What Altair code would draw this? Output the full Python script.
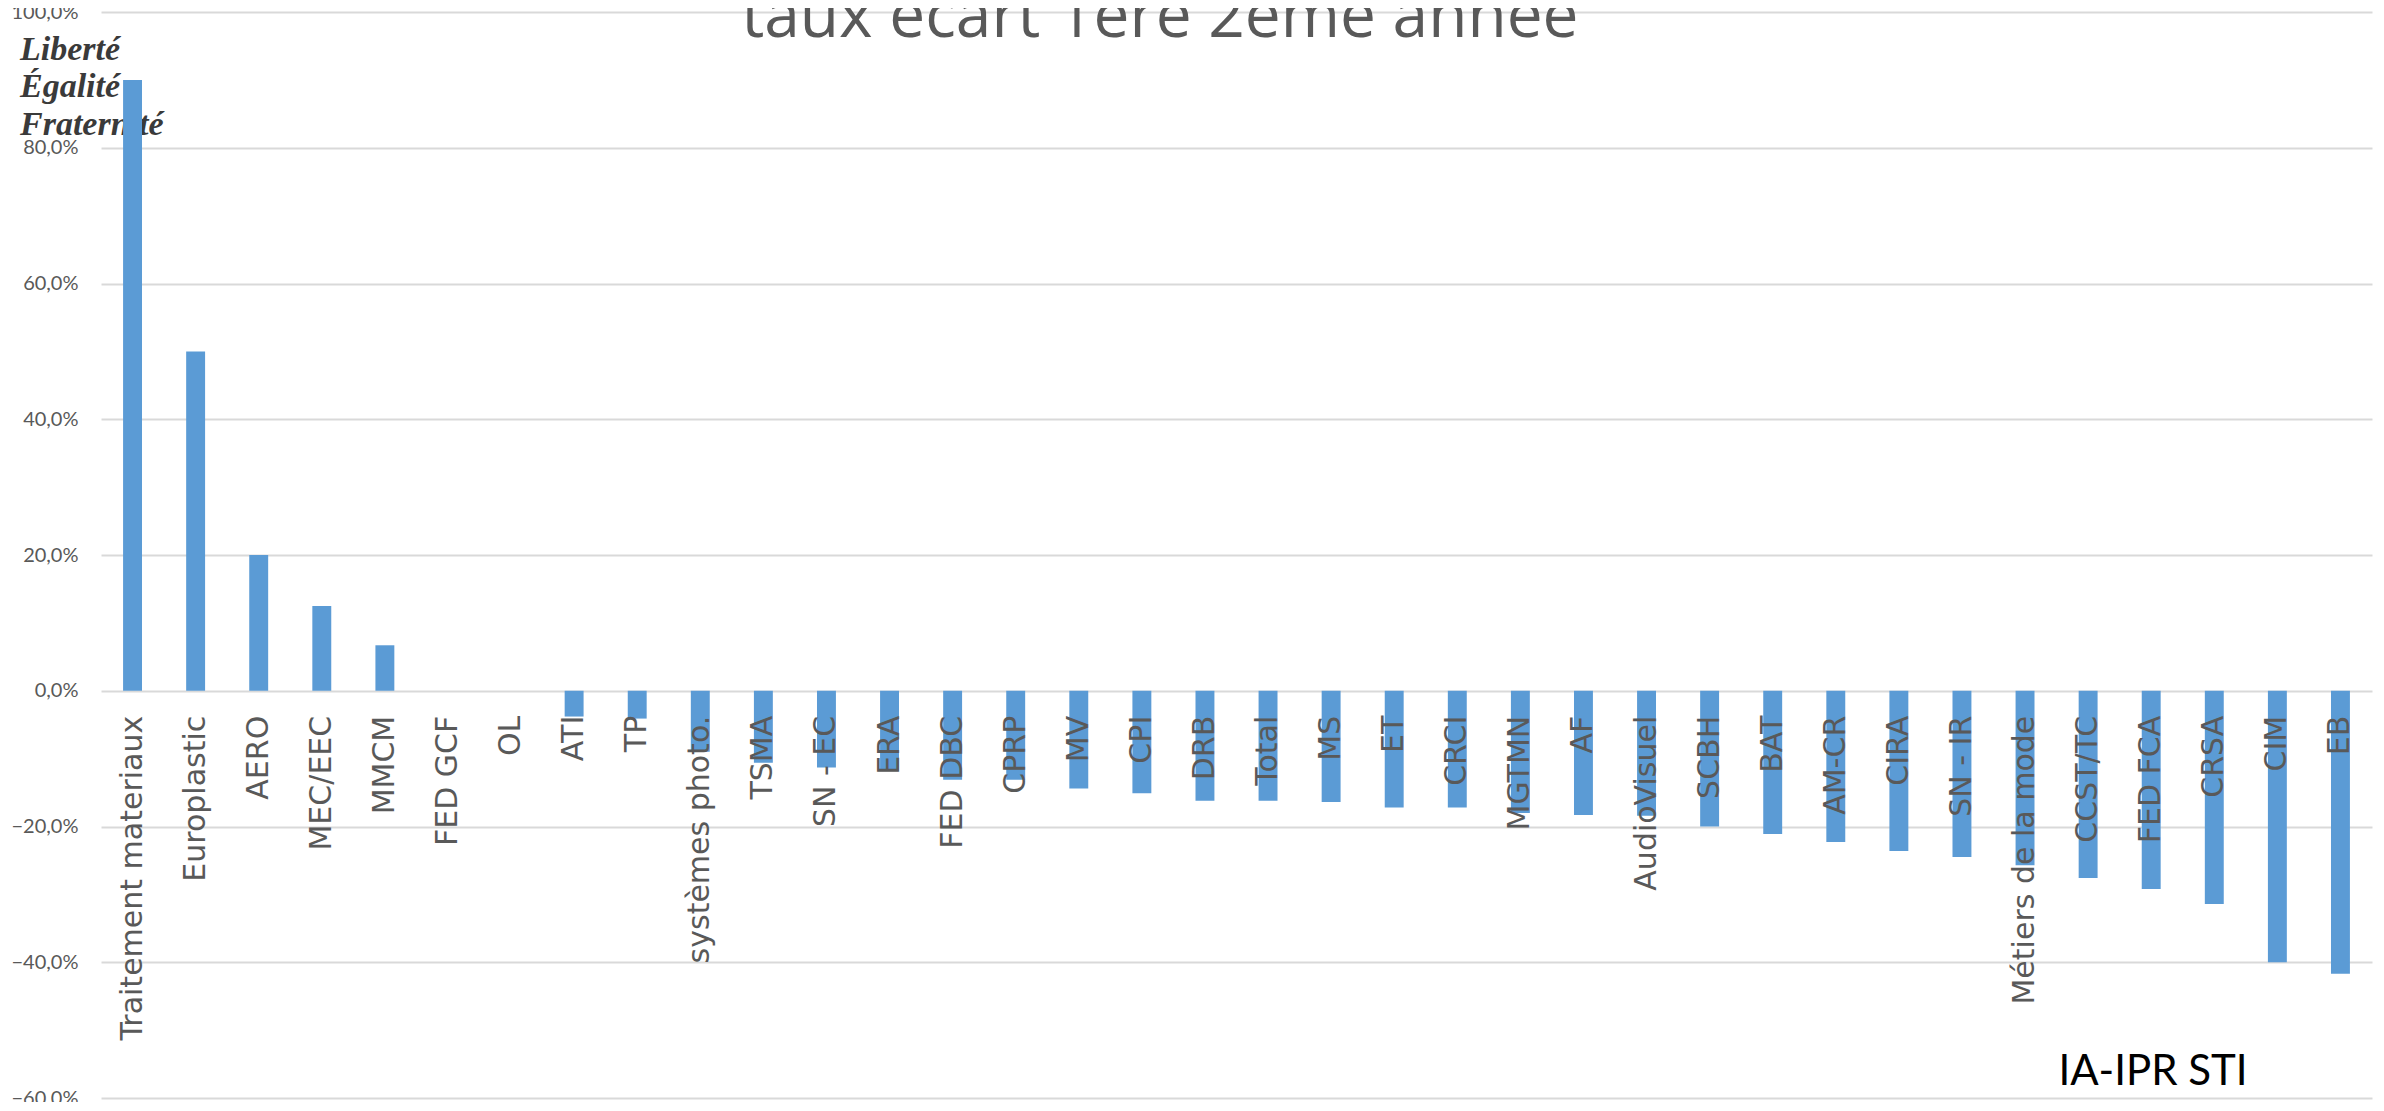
import altair as alt
import pandas as pd

CATEGORIES = [
    "Traitement materiaux", "Europlastic", "AERO", "MEC/EEC", "MMCM", "FED GCF", "OL",
    "ATI", "TP", "systèmes photo.", "TSMA", "SN - EC", "ERA", "FED DBC", "CPRP", "MV",
    "CPI", "DRB", "Total", "MS", "ET", "CRCI", "MGTMN", "AF", "AudioVisuel", "SCBH",
    "BAT", "AM-CR", "CIRA", "SN - IR", "Métiers de la mode", "CCST/TC", "FED FCA",
    "CRSA", "CIM", "EB",
]
VALUES_PCT = [
    90.0, 50.0, 20.0, 12.5, 6.7, 0.0, 0.0,
    -3.8, -4.1, -9.0, -10.6, -11.3, -11.8, -13.1, -13.1, -14.4,
    -15.1, -16.2, -16.2, -16.4, -17.2, -17.2, -18.0, -18.3, -18.4, -20.0,
    -21.1, -22.3, -23.6, -24.5, -25.7, -27.6, -29.2,
    -31.4, -40.0, -41.7,
]
Y_TICKS_PCT = [-60, -40, -20, 0, 20, 40, 60, 80, 100]
TITLE = "taux ecart 1ère 2ème année"
SOURCE = "IA-IPR STI"
LOGO_LINES = ["Liberté", "Égalité", "Fraternité"]

df = pd.DataFrame({
    "cat": CATEGORIES,
    "val": [v / 100 for v in VALUES_PCT],
    "base": [0.0] * len(CATEGORIES),
})

W, H = 2271, 1086
GREY = "#595959"

xscale = alt.Scale(domain=CATEGORIES, paddingInner=0.7, paddingOuter=0.35)
yscale = alt.Scale(domain=[-0.6, 1.0], nice=False, zero=False)


def make_yaxis():
    return alt.Axis(
        values=[t / 100 for t in Y_TICKS_PCT],
        labelExpr="replace(format(datum.value, '.1%'), '.', ',')",
        title=None,
        grid=True,
        gridColor="#d9d9d9",
        gridWidth=2,
        domain=False,
        ticks=False,
        labelPadding=23,
        labelFont="Lato",
        labelFontSize=20,
        labelColor=GREY,
    )


# logo lines (behind bars)
logo_layers = []
logo_y = [48, 85, 123]
for line, yy in zip(LOGO_LINES, logo_y):
    logo_layers.append(
        alt.Chart(pd.DataFrame({"t": [line]}))
        .mark_text(align="left", baseline="alphabetic", font="Liberation Serif",
                   fontStyle="italic", fontWeight="bold", fontSize=34, color="#3a3a3a")
        .encode(text="t:N", x=alt.value(-81), y=alt.value(yy))
    )

bars = alt.Chart(df).mark_bar(color="#5b9bd5").encode(
    x=alt.X("cat:N", scale=xscale, axis=None, sort=CATEGORIES),
    y=alt.Y("val:Q", scale=yscale, axis=make_yaxis()),
    y2=alt.Y2("base:Q"),
)

labels = alt.Chart(df).mark_text(
    angle=270, align="right", baseline="middle", dx=-25,
    font="DejaVu Sans", fontSize=30, color=GREY,
).encode(
    x=alt.X("cat:N", scale=xscale, axis=None, sort=CATEGORIES),
    y=alt.Y("base:Q", scale=yscale, axis=make_yaxis()),
    text="cat:N",
)

title = alt.Chart(pd.DataFrame({"t": [TITLE]})).mark_text(
    align="center", baseline="alphabetic", font="Open Sans", fontSize=64, color=GREY,
).encode(text="t:N", x=alt.value(1059), y=alt.value(25))

source = alt.Chart(pd.DataFrame({"t": [SOURCE]})).mark_text(
    align="center", baseline="alphabetic", font="Lato", fontSize=42, color="#000000",
).encode(text="t:N", x=alt.value(2052), y=alt.value(1073))

chart = alt.layer(*logo_layers, bars, labels, title, source).properties(
    width=W,
    height=H,
    autosize=alt.AutoSizeParams(type="none"),
    padding={"left": 93, "top": 4, "right": 2, "bottom": 4},
).configure_view(stroke=None)

chart.save("out.html", embed_options={"renderer": "svg", "actions": False})
